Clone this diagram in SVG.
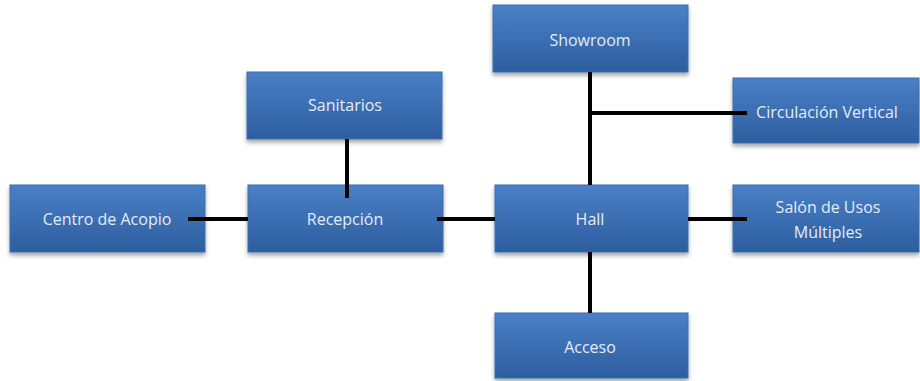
<svg xmlns="http://www.w3.org/2000/svg" width="920" height="381" viewBox="0 0 920 381">
<defs>
<linearGradient id="g" x1="0" y1="0" x2="0" y2="1">
<stop offset="0" stop-color="#4a80c6"/>
<stop offset="1" stop-color="#2d5d9f"/>
</linearGradient>
<filter id="sh" x="-10%" y="-10%" width="120%" height="130%">
<feDropShadow dx="0" dy="3" stdDeviation="2" flood-color="#000" flood-opacity="0.35"/>
</filter>
</defs>
<style>
.box{fill:url(#g);stroke:#3a6eb0;stroke-width:1;filter:url(#sh)}
.t{font-family:"Open Sans","Liberation Sans",sans-serif;font-size:16px;fill:#e4ecf6;text-anchor:middle;dominant-baseline:central}
.c{stroke:#000;stroke-width:4;fill:none}
</style>
<rect width="920" height="381" fill="#fff"/>
<g id="centro"><rect class="box" x="10" y="185" width="195" height="67"/><text class="t" x="107" y="219">Centro de Acopio</text></g>
<g id="recepcion"><rect class="box" x="248" y="185" width="195" height="67"/><text class="t" x="345" y="219">Recepción</text></g>
<g id="sanitarios"><rect class="box" x="247" y="72" width="195" height="67"/><text class="t" x="345" y="105">Sanitarios</text></g>
<g id="showroom"><rect class="box" x="493" y="5" width="195" height="67"/><text class="t" x="590" y="40">Showroom</text></g>
<g id="circulacion"><rect class="box" x="733" y="78" width="186" height="65"/><text class="t" x="827" y="112">Circulación Vertical</text></g>
<g id="hall"><rect class="box" x="495" y="185" width="193" height="67"/><text class="t" x="590" y="219">Hall</text></g>
<g id="salon"><rect class="box" x="733" y="185" width="186" height="67"/><text class="t" x="828" y="207">Salón de Usos</text><text class="t" x="828" y="232">Múltiples</text></g>
<g id="acceso"><rect class="box" x="495" y="313" width="193" height="65"/><text class="t" x="590" y="347">Acceso</text></g>
<g id="connectors">
<line class="c" x1="188" y1="219" x2="248" y2="219"/>
<line class="c" x1="437" y1="219" x2="495" y2="219"/>
<line class="c" x1="347" y1="139" x2="347" y2="198"/>
<line class="c" x1="590" y1="72" x2="590" y2="185"/>
<line class="c" x1="590" y1="113" x2="747" y2="113"/>
<line class="c" x1="688" y1="219" x2="747" y2="219"/>
<line class="c" x1="590" y1="252" x2="590" y2="313"/>
</g>
</svg>
